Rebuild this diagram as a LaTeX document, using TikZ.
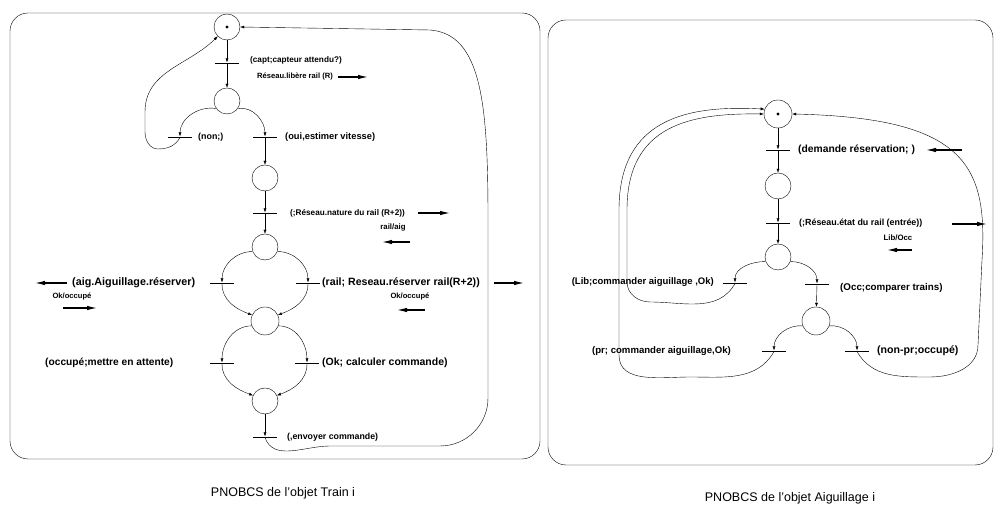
\documentclass[tikz,border=0pt]{standalone}
\usepackage{fontspec}
\setmainfont{Liberation Sans}
\usetikzlibrary{arrows.meta, positioning, calc}

\begin{document}
\begin{tikzpicture}[x=1pt, y=1pt,
    place/.style={circle, draw, minimum size=26pt, inner sep=0pt},
    marked/.style={place, path picture={\fill (path picture bounding box.center) circle (1.6pt);}},
    trans/.style={fill, minimum width=24pt, minimum height=0.8pt, inner sep=0pt},
    arc/.style={-{Latex[length=4pt, width=3pt]}},
    msg/.style={-{Latex[length=10pt, width=4.5pt]}, line width=1.1pt},
    lbl/.style={font=\fontsize{#1}{#1}\selectfont\bfseries, inner sep=0pt},
    lbl/.default=9.3,
    panel/.style={draw, rounded corners=18pt},
    legende/.style={font=\fontsize{12.5}{14}\selectfont}]

    \useasboundingbox (0,0) rectangle (996,510);

    % Cadres
    \draw[panel] (10,51) rectangle (540,497);
    \draw[panel] (548,45) rectangle (993,490);

    % Objet Train : places et transitions
    \node[marked] (p0) at (227,483) {};
    \node[trans] (tcapt) at (227,447) {};
    \node[place] (p1) at (227,409) {};
    \node[trans] (tnon) at (180,373) {};
    \node[trans] (toui) at (265,373) {};
    \node[place] (p2) at (265,332) {};
    \node[trans] (tnat) at (265,297) {};
    \node[place] (p3) at (265,263) {};
    \node[trans] (taig) at (222,227) {};
    \node[trans] (trail) at (308,227) {};
    \node[place, minimum size=28pt] (p4) at (265,189) {};
    \node[trans] (tocc) at (222,147) {};
    \node[trans] (tok) at (307,147) {};
    \node[place] (p5) at (265,109) {};
    \node[trans] (tenv) at (265,73) {};

    % Arcs
    \draw[arc] (p0) -- (tcapt);
    \draw[arc] (tcapt) -- (p1);
    \draw[arc] (p1.215) to[out=170, in=90] (tnon.north);
    \draw[arc] (p1.-35) to[out=10, in=90] (toui.north);
    \draw[arc] (tnon.south) to[out=-120, in=0] (158,361) to[out=180, in=-90] (145,378) -- (145,398) to[out=90, in=225] (p0.225);
    \draw[arc] (toui) -- (p2);
    \draw[arc] (p2) -- (tnat);
    \draw[arc] (tnat) -- (p3);
    \draw[arc] (p3.200) to[out=180, in=90] (taig.north);
    \draw[arc] (taig.south) to[out=-90, in=160] (p4.155);
    \draw[arc] (p3.-20) to[out=0, in=90] (trail.north);
    \draw[arc] (trail.south) to[out=-90, in=20] (p4.25);
    \draw[arc] (p4.200) to[out=180, in=90] (tocc.north);
    \draw[arc] (tocc.south) to[out=-90, in=160] (p5.155);
    \draw[arc] (p4.-20) to[out=0, in=90] (tok.north);
    \draw[arc] (tok.south) to[out=-90, in=20] (p5.25);
    \draw[arc] (p5) -- (tenv);
    \draw[arc] (tenv.south) to[out=-70, in=180] (330,64) -- (440,64) to[out=0, in=-90] (488,112) -- (488,290)
        .. controls (488,405) and (482,476) .. (430,480) -- (p0.east);

    % Etiquettes et messages
    \node[lbl=8.2, anchor=west] (lcapt) at (250,450) {(capt;capteur attendu?)};
    \node[lbl=7.6, anchor=west] (llib) at (257,433) {Réseau.libère rail (R)};
    \draw[msg] (338,433) -- (368,433);
    \node[lbl=8.9, anchor=west] (lnon) at (198,373) {(non;)};
    \node[lbl, anchor=west] (loui) at (285,373) {(oui,estimer vitesse)};
    \node[lbl=8.2, anchor=west] (lnat) at (290,297) {(;Réseau.nature du rail (R+2))};
    \draw[msg] (418,297) -- (450,297);
    \node[lbl=7.8] (lraig) at (393,282) {rail/aig};
    \draw[msg] (410,268) -- (382,268);
    \node[lbl=10.8, anchor=west] (lres) at (72,227) {(aig.Aiguillage.réserver)};
    \draw[msg] (67,227) -- (35,227);
    \node[lbl=7.6] (lok1) at (72,213) {Ok/occupé};
    \draw[msg] (63,202) -- (97,202);
    \node[lbl=10.6, anchor=west] (lrail) at (322,227) {(rail; Reseau.réserver rail(R+2))};
    \draw[msg] (494,227) -- (524,227);
    \node[lbl=7.6] (lok2) at (410,213) {Ok/occupé};
    \draw[msg] (425,200) -- (397,200);
    \node[lbl=10.2, anchor=west] (lattente) at (45,147) {(occupé;mettre en attente)};
    \node[lbl=10.5, anchor=west] (lcalc) at (322,147) {(Ok; calculer commande)};
    \node[lbl=8.8, anchor=west] (lenv) at (287,73) {(,envoyer commande)};

    % Objet Aiguillage : places et transitions
    \node[marked, minimum size=28pt] (q0) at (778,396) {};
    \node[trans] (tdem) at (778,360) {};
    \node[place] (q1) at (778,324) {};
    \node[trans] (tetat) at (778,287) {};
    \node[place] (q2) at (778,253) {};
    \node[trans] (tlib) at (735,227) {};
    \node[trans] (tcomp) at (817,226) {};
    \node[place, minimum size=28pt] (q3) at (816,189) {};
    \node[trans] (tpr) at (774,159) {};
    \node[trans] (tnonpr) at (857,159) {};

    % Arcs
    \draw[arc] (q0) -- (tdem);
    \draw[arc] (tdem) -- (q1);
    \draw[arc] (q1) -- (tetat);
    \draw[arc] (tetat) -- (q2);
    \draw[arc] (q2.200) to[out=180, in=90] (tlib.north);
    \draw[arc] (q2.-20) to[out=0, in=90] (tcomp.north);
    \draw[arc] (tcomp) -- (q3);
    \draw[arc] (q3.200) to[out=175, in=90] (tpr.north);
    \draw[arc] (q3.-20) to[out=5, in=90] (tnonpr.north);
    \draw[arc] (tlib.south) to[out=-120, in=0] (650,208) to[out=180, in=-90] (627,228) -- (627,300)
        .. controls (627,385) and (690,397) .. (q0.west);
    \draw[arc] (tpr.south) to[out=-120, in=0] (690,133) to[out=180, in=-90] (619,155) -- (619,300)
        .. controls (619,392) and (688,405) .. (q0.160);
    \draw[arc] (tnonpr.south) to[out=-60, in=180] (930,133) to[out=0, in=-90] (978,165) -- (982,250)
        .. controls (988,345) and (965,392) .. (q0.east);

    % Etiquettes et messages
    \node[lbl=10.3, anchor=west] (ldem) at (798,360) {(demande réservation; )};
    \draw[msg] (962,360) -- (926,360);
    \node[lbl=8.9, anchor=west] (letat) at (799,287) {(;Réseau.état du rail (entrée))};
    \draw[msg] (952,286) -- (987,286);
    \node[lbl=7.8] (llibocc) at (898,272) {Lib/Occ};
    \draw[msg] (912,260) -- (887,260);
    \node[lbl=9.5, anchor=east] (lcmd) at (714,228) {(Lib;commander aiguillage ,Ok)};
    \node[lbl=9.8, anchor=west] (lcomp) at (840,222) {(Occ;comparer trains)};
    \node[lbl=9.6, anchor=east] (lpr) at (731,159) {(pr; commander aiguillage,Ok)};
    \node[lbl=10.6, anchor=west] (lnonpr) at (877,159) {(non-pr;occupé)};

    % Legendes
    \node[legende] (cap1) at (283,17) {PNOBCS de l'objet Train i};
    \node[legende] (cap2) at (790,12) {PNOBCS de l'objet Aiguillage i};
\end{tikzpicture}
\end{document}
